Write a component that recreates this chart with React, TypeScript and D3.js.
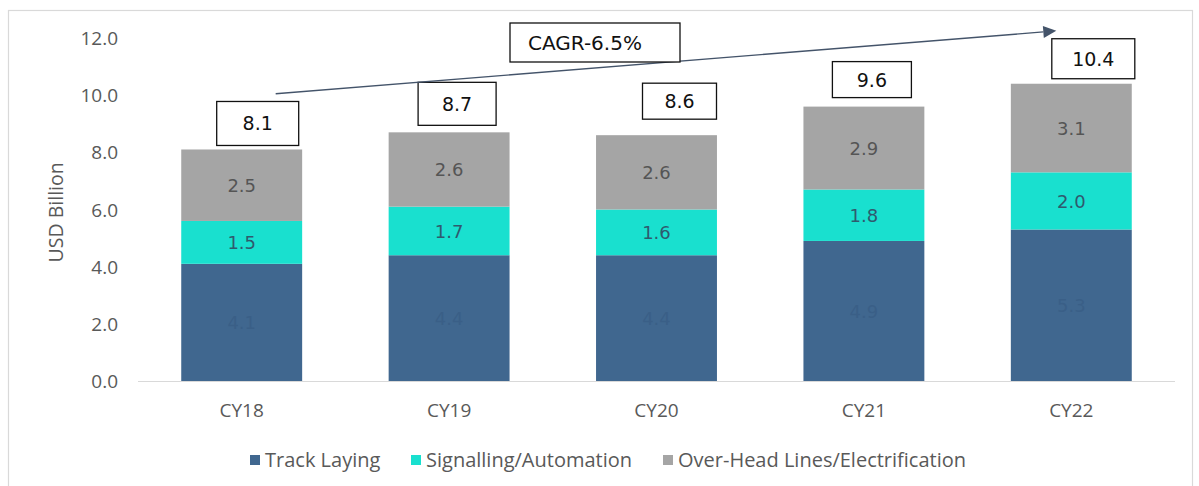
import React from "react";
import * as d3 from "d3";

const categories = ["CY18", "CY19", "CY20", "CY21", "CY22"];
const trackLaying = [4.1, 4.4, 4.4, 4.9, 5.3];
const signalling = [1.5, 1.7, 1.6, 1.8, 2.0];
const overHead = [2.5, 2.6, 2.6, 2.9, 3.1];
const totals = [8.1, 8.7, 8.6, 9.6, 10.4];
const yTicks = [0, 2, 4, 6, 8, 10, 12];
const seriesNames = ["Track Laying", "Signalling/Automation", "Over-Head Lines/Electrification"];
const cagrLabel = "CAGR-6.5%";

// layout / styling (not data)
const COLORS = ["#40678f", "#19e0cf", "#a5a5a5"];
const LABEL_COLORS = ["#3a5f87", "#2f5a6e", "#555555"];
const BOX_DX = [16, 8, 23, 8, 22];
const BOX_W = [82, 78, 74, 79, 83];
const BOX_H = [44, 43, 36, 36, 40];
const BOX_GAP = [4, 7, 16, 9, 5];
const LEGEND_X = [250, 411, 663];
const CALIBRI = "'Open Sans', 'Noto Sans', sans-serif";
const TAHOMA = "'DejaVu Sans', sans-serif";

export default function App() {
  const W = 1199, H = 486;
  const x = d3.scaleBand<string>().domain(categories).range([138, 1175]).paddingInner(0.417).paddingOuter(0.2085);
  const y = d3.scaleLinear().domain([0, 12]).range([381, 38]);
  const fmt = d3.format(".1f");

  const rows = categories.map((c, i) => ({ cat: c, s0: trackLaying[i], s1: signalling[i], s2: overHead[i] }));
  const stack = d3.stack<any>().keys(["s0", "s1", "s2"])(rows);

  const bw = x.bandwidth();
  const cx = (c: string) => (x(c) as number) + bw / 2;

  // arrow geometry, relative to first/last bars
  const ax1 = cx(categories[0]) + 34, ay1 = y(10.05);
  const ax2 = cx(categories[categories.length - 1]) - 15, ay2 = y(12.25);
  const ang = Math.atan2(ay2 - ay1, ax2 - ax1);
  const ah = 13, aw = 6;
  const hx = ax2 - ah * Math.cos(ang), hy = ay2 - ah * Math.sin(ang);
  const arrowPts = [
    [ax2, ay2],
    [hx + aw * Math.sin(ang), hy - aw * Math.cos(ang)],
    [hx - aw * Math.sin(ang), hy + aw * Math.cos(ang)],
  ].map((p) => p.join(",")).join(" ");

  return (
    <svg width={W} height={H} style={{ position: "absolute", left: 0, top: 0, background: "#fff" }}>
      <rect x={8.5} y={10.5} width={1184} height={490} fill="#fff" stroke="#d9d9d9" strokeWidth={1.2} />

      {/* y axis ticks */}
      {yTicks.map((t) => (
        <text key={t} x={118} y={y(t) + 7} textAnchor="end" fontFamily={CALIBRI} fontSize={19} fill="#595959">
          {fmt(t)}
        </text>
      ))}
      <text transform={`translate(63,${y(5.9)}) rotate(-90)`} textAnchor="middle" fontFamily={CALIBRI} fontSize={19.5} fill="#595959">
        USD Billion
      </text>

      {/* bars */}
      {stack.map((layer, si) => (
        <g key={si}>
          {layer.map((d: any, i: number) => (
            <rect key={i} x={x(categories[i])} y={y(d[1])} width={bw} height={y(d[0]) - y(d[1])} fill={COLORS[si]} />
          ))}
        </g>
      ))}
      {stack.map((layer, si) => (
        <g key={"l" + si}>
          {layer.map((d: any, i: number) => (
            <text key={i} x={cx(categories[i])} y={(y(d[0]) + y(d[1])) / 2 + 7} textAnchor="middle" fontFamily={TAHOMA} fontSize={18} fill={LABEL_COLORS[si]}>
              {fmt(d[1] - d[0])}
            </text>
          ))}
        </g>
      ))}

      {/* baseline */}
      <line x1={138} x2={1175} y1={y(0) + 0.5} y2={y(0) + 0.5} stroke="#d9d9d9" strokeWidth={1.2} />

      {/* x labels */}
      {categories.map((c) => (
        <text key={c} x={cx(c)} y={417} textAnchor="middle" fontFamily={CALIBRI} fontSize={19} fill="#595959">
          {c}
        </text>
      ))}

      {/* total boxes */}
      {totals.map((t, i) => {
        const bx = cx(categories[i]) + BOX_DX[i];
        const bottom = y(t) - BOX_GAP[i];
        const top = bottom - BOX_H[i];
        return (
          <g key={i}>
            <rect x={bx - BOX_W[i] / 2} y={top} width={BOX_W[i]} height={BOX_H[i]} fill="#fff" stroke="#111" strokeWidth={1.3} />
            <text x={bx} y={(top + bottom) / 2 + 7} textAnchor="middle" fontFamily={TAHOMA} fontSize={19} fill="#111">
              {fmt(t)}
            </text>
          </g>
        );
      })}

      {/* CAGR arrow */}
      <line x1={ax1} y1={ay1} x2={hx} y2={hy} stroke="#44546a" strokeWidth={1.4} />
      <polygon points={arrowPts} fill="#44546a" />
      <rect x={510} y={23} width={170} height={39} fill="#fff" stroke="#111" strokeWidth={1.3} />
      <text x={528} y={50} fontFamily={TAHOMA} fontSize={20} fill="#111">
        {cagrLabel}
      </text>

      {/* legend */}
      {seriesNames.map((n, i) => (
        <g key={n}>
          <rect x={LEGEND_X[i]} y={455} width={10} height={10} fill={COLORS[i]} />
          <text x={LEGEND_X[i] + 15} y={467} fontFamily={CALIBRI} fontSize={20} fill="#595959">
            {n}
          </text>
        </g>
      ))}
    </svg>
  );
}
